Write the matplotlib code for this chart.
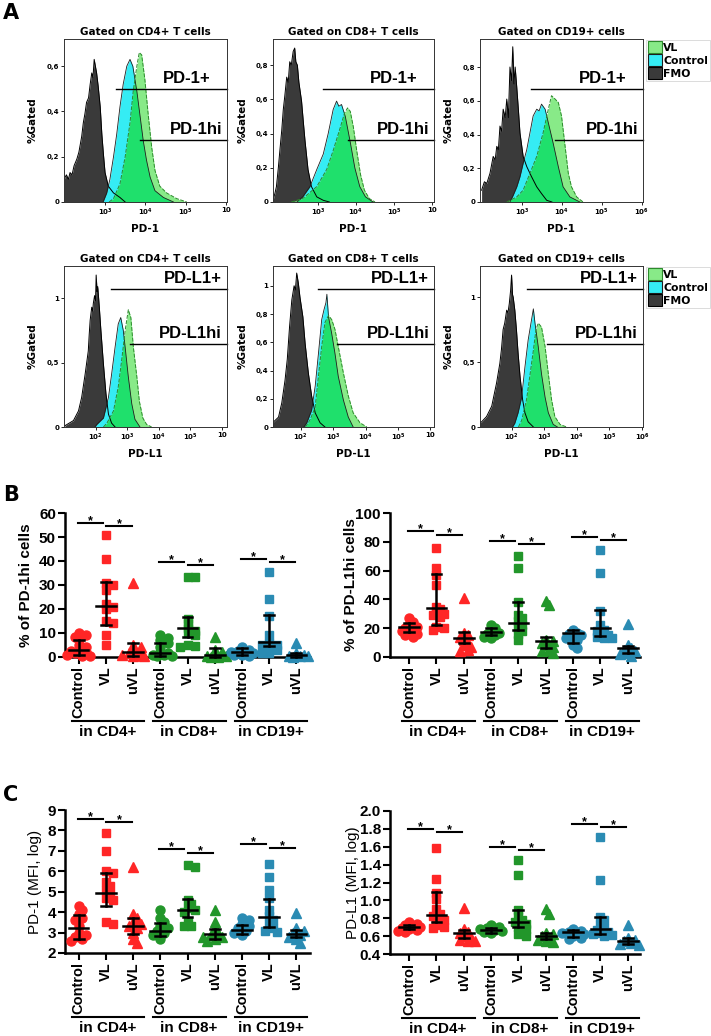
import numpy as np
import matplotlib
matplotlib.use("Agg")
import matplotlib.pyplot as plt
import matplotlib.transforms as mtransforms
from matplotlib.patches import Patch

plt.rcParams['font.family'] = ['Liberation Sans', 'DejaVu Sans']

# ---------------- panel A: histogram outlines (log10 intensity, fraction gated)
pd1_cd4_fmo = [(1.98, 0.10), (2.04, 0.12), (2.09, 0.10), (2.13, 0.13), (2.18, 0.12), (2.23, 0.16), (2.30, 0.19),
               (2.35, 0.22), (2.42, 0.29), (2.46, 0.35), (2.50, 0.39), (2.54, 0.44), (2.59, 0.46), (2.63, 0.52),
               (2.67, 0.57), (2.70, 0.55), (2.73, 0.63), (2.76, 0.60), (2.79, 0.57), (2.83, 0.51), (2.88, 0.42),
               (2.92, 0.30), (2.96, 0.21), (3.00, 0.13), (3.08, 0.07), (3.21, 0.04), (3.37, 0.02), (3.50, 0.0)]
pd1_cd4_ctrl = [(2.95, 0.0), (3.04, 0.04), (3.12, 0.10), (3.21, 0.20), (3.29, 0.30), (3.37, 0.42), (3.45, 0.52),
                (3.54, 0.60), (3.62, 0.63), (3.69, 0.60), (3.79, 0.49), (3.87, 0.38), (3.95, 0.27), (4.03, 0.185),
                (4.12, 0.11), (4.24, 0.05), (4.45, 0.02), (4.70, 0.0)]
pd1_cd4_vl = [(3.10, 0.0), (3.21, 0.015), (3.37, 0.08), (3.50, 0.20), (3.62, 0.35), (3.70, 0.49), (3.79, 0.60),
              (3.85, 0.66), (3.91, 0.65), (3.99, 0.54), (4.07, 0.39), (4.16, 0.24), (4.24, 0.14), (4.36, 0.07),
              (4.53, 0.04), (4.78, 0.015), (5.03, 0.0)]

pd1_cd8_fmo = [(1.82, 0.01), (1.87, 0.05), (1.91, 0.09), (1.96, 0.20), (2.00, 0.30), (2.05, 0.42), (2.09, 0.54),
               (2.13, 0.62), (2.18, 0.73), (2.22, 0.70), (2.26, 0.82), (2.30, 0.80), (2.35, 0.88), (2.39, 0.90),
               (2.42, 0.82), (2.46, 0.80), (2.50, 0.70), (2.57, 0.59), (2.62, 0.46), (2.66, 0.36), (2.74, 0.19),
               (2.83, 0.09), (2.97, 0.03), (3.14, 0.01), (3.30, 0.0)]
pd1_cd8_ctrl = [(2.45, 0.0), (2.60, 0.03), (2.79, 0.09), (2.97, 0.19), (3.14, 0.28), (3.27, 0.40), (3.40, 0.54),
                (3.49, 0.59), (3.55, 0.56), (3.62, 0.57), (3.72, 0.50), (3.85, 0.35), (3.97, 0.20), (4.10, 0.09),
                (4.25, 0.03), (4.45, 0.0)]
pd1_cd8_vl = [(2.30, 0.0), (2.60, 0.02), (2.97, 0.09), (3.23, 0.19), (3.40, 0.30), (3.58, 0.43), (3.70, 0.52),
              (3.78, 0.55), (3.85, 0.53), (3.93, 0.44), (4.02, 0.30), (4.12, 0.16), (4.22, 0.07), (4.35, 0.02),
              (4.50, 0.0)]

pd1_cd19_fmo = [(1.99, 0.07), (2.06, 0.12), (2.12, 0.11), (2.20, 0.17), (2.28, 0.27), (2.33, 0.25), (2.37, 0.33),
                (2.41, 0.31), (2.45, 0.45), (2.49, 0.42), (2.53, 0.55), (2.58, 0.50), (2.62, 0.61), (2.66, 0.50),
                (2.70, 0.80), (2.74, 0.72), (2.77, 0.92), (2.80, 0.70), (2.83, 0.80), (2.87, 0.68), (2.91, 0.55),
                (2.95, 0.41), (3.03, 0.27), (3.12, 0.21), (3.24, 0.15), (3.37, 0.09), (3.49, 0.05), (3.62, 0.01),
                (3.75, 0.0)]
pd1_cd19_ctrl = [(2.70, 0.0), (2.78, 0.04), (2.87, 0.09), (2.95, 0.15), (3.03, 0.23), (3.12, 0.31), (3.20, 0.41),
                 (3.28, 0.51), (3.37, 0.55), (3.43, 0.54), (3.49, 0.58), (3.58, 0.55), (3.66, 0.47), (3.78, 0.35),
                 (3.91, 0.21), (4.03, 0.09), (4.20, 0.03), (4.45, 0.0)]
pd1_cd19_vl = [(2.62, 0.0), (2.87, 0.03), (3.03, 0.07), (3.20, 0.17), (3.37, 0.27), (3.53, 0.41), (3.66, 0.55),
               (3.74, 0.63), (3.83, 0.61), (3.91, 0.59), (3.99, 0.51), (4.08, 0.33), (4.16, 0.17), (4.24, 0.09),
               (4.37, 0.03), (4.53, 0.0)]

pdl1_cd4_fmo = [(1.03, 0.01), (1.30, 0.05), (1.46, 0.125), (1.56, 0.23), (1.67, 0.41), (1.72, 0.50), (1.77, 0.59),
                (1.80, 0.72), (1.83, 0.83), (1.88, 0.93), (1.91, 0.90), (1.93, 0.96), (1.97, 1.02), (2.00, 0.98),
                (2.02, 1.18), (2.05, 1.05), (2.07, 1.09), (2.12, 0.93), (2.17, 0.75), (2.25, 0.49), (2.33, 0.26),
                (2.41, 0.10), (2.51, 0.03), (2.62, 0.0)]
pdl1_cd4_ctrl = [(1.98, 0.0), (2.04, 0.02), (2.25, 0.07), (2.41, 0.23), (2.51, 0.41), (2.62, 0.62), (2.72, 0.80),
                 (2.80, 0.85), (2.88, 0.75), (2.94, 0.62), (3.04, 0.39), (3.15, 0.18), (3.25, 0.06), (3.41, 0.0)]
pdl1_cd4_vl = [(2.25, 0.0), (2.36, 0.03), (2.57, 0.125), (2.72, 0.31), (2.83, 0.52), (2.94, 0.75), (3.04, 0.91),
               (3.12, 0.85), (3.20, 0.62), (3.31, 0.39), (3.39, 0.20), (3.50, 0.07), (3.62, 0.02), (3.78, 0.0)]

pdl1_cd8_fmo = [(1.14, 0.03), (1.32, 0.07), (1.42, 0.17), (1.52, 0.33), (1.59, 0.48), (1.66, 0.71), (1.73, 0.90),
                (1.80, 1.00), (1.84, 0.97), (1.88, 1.09), (1.93, 1.02), (1.98, 0.92), (2.07, 0.78), (2.14, 0.59),
                (2.24, 0.38), (2.34, 0.22), (2.45, 0.10), (2.60, 0.03), (2.75, 0.0)]
pdl1_cd8_ctrl = [(2.10, 0.0), (2.19, 0.03), (2.34, 0.12), (2.45, 0.29), (2.55, 0.52), (2.65, 0.76), (2.72, 0.83),
                 (2.78, 0.88), (2.81, 0.94), (2.86, 0.78), (2.96, 0.66), (3.06, 0.52), (3.16, 0.36), (3.32, 0.19),
                 (3.47, 0.07), (3.62, 0.0)]
pdl1_cd8_vl = [(2.15, 0.0), (2.29, 0.05), (2.45, 0.14), (2.55, 0.36), (2.65, 0.57), (2.75, 0.74), (2.86, 0.79),
               (2.96, 0.76), (3.06, 0.69), (3.16, 0.57), (3.32, 0.38), (3.47, 0.22), (3.62, 0.10), (3.83, 0.03),
               (4.04, 0.0)]

pdl1_cd19_fmo = [(1.02, 0.03), (1.07, 0.04), (1.22, 0.08), (1.38, 0.16), (1.53, 0.34), (1.63, 0.49), (1.68, 0.60),
                 (1.73, 0.75), (1.78, 0.80), (1.84, 0.90), (1.88, 0.88), (1.92, 0.95), (1.96, 1.05), (1.99, 1.17),
                 (2.02, 1.02), (2.04, 1.00), (2.09, 0.90), (2.14, 0.75), (2.19, 0.57), (2.25, 0.39), (2.33, 0.21),
                 (2.40, 0.11), (2.50, 0.04), (2.66, 0.0)]
pdl1_cd19_ctrl = [(2.02, 0.0), (2.09, 0.03), (2.19, 0.11), (2.30, 0.23), (2.40, 0.46), (2.50, 0.67), (2.60, 0.82),
                  (2.66, 0.91), (2.71, 0.80), (2.81, 0.62), (2.91, 0.41), (3.02, 0.23), (3.12, 0.11), (3.27, 0.02),
                  (3.40, 0.0)]
pdl1_cd19_vl = [(2.20, 0.0), (2.30, 0.05), (2.45, 0.21), (2.55, 0.39), (2.66, 0.59), (2.74, 0.75), (2.81, 0.80),
                (2.91, 0.77), (3.02, 0.62), (3.12, 0.41), (3.22, 0.21), (3.32, 0.08), (3.48, 0.02), (3.68, 0.0)]

# gate start (log10) for the "+" and "hi" gates
pd1_pos_start = [3.27, 3.13, 3.22]
pd1_hi_start = [3.87, 3.79, 3.82]
pdl1_pos_start = [2.49, 2.54, 2.46]
pdl1_hi_start = [3.10, 3.12, 3.08]

# ---------------- panels B and C: per-subject values
conds = ['Control', 'VL', 'uVL']
groups = ['in CD4+', 'in CD8+', 'in CD19+']

pd1hi_vals = [
    [10, 9, 8.5, 7, 5, 4, 3, 2.5, 2, 1.5, 1, 0.5, 0.3],
    [51, 41, 31, 30, 28, 22, 21, 20, 15, 14, 9, 5],
    [31, 5, 4, 3, 2, 1.5, 1, 1, 0.5, 0.3],
    [9, 8, 7, 6, 4, 2, 1.5, 1, 0.8, 0.5, 0.3],
    [33.5, 33.5, 16, 14, 12, 11, 10, 9, 5, 4.5, 4],
    [8.5, 3, 2, 1, 0.5, 0.3, 0.2, 0.1],
    [4, 3, 2.5, 2, 2, 1.5, 1, 1, 0.5],
    [35.5, 24, 17, 9, 6, 5, 5, 4, 3, 1.5, 1.5],
    [6, 1.5, 1, 0.5, 0.5, 0.3, 0.2],
]
pd1hi_med = [2.9, 21.3, 2.2, 1.8, 11.9, 0.8, 2.2, 6.4, 0.8]
pd1hi_q1 = [0.8, 13.3, 0.5, 0.5, 8.5, 0.2, 0.8, 4.6, 0.1]
pd1hi_q3 = [7.1, 31.4, 5.7, 5.7, 16.8, 3.6, 3.6, 17.5, 1.8]
pd1hi_sig = [56, 54.5, 39.6, 38.3, 40.8, 39.6]

pdl1hi_vals = [
    [27, 24, 22, 21, 20, 19, 18, 17, 16, 15, 14],
    [76, 62, 57, 50, 35, 33, 31, 30, 29, 28, 21, 20, 19],
    [41, 17, 15, 14, 12, 10, 8, 7, 5, 4],
    [22, 20, 18, 17, 16, 15, 14, 13],
    [70, 62, 38, 29, 27, 25, 22, 20, 18, 16, 12],
    [39, 36, 12, 11, 10, 8, 7, 5, 4, 3],
    [19, 17, 16, 15, 14, 13, 12, 8, 6],
    [74, 58, 32, 22, 19, 18, 16, 15, 14, 13, 13],
    [23, 8, 6, 5, 4, 3, 2, 1],
]
pdl1hi_med = [20.6, 34.3, 13, 17.1, 23.8, 11.3, 16.4, 19.9, 6]
pdl1hi_q1 = [17.6, 22.2, 9.5, 15.3, 18.8, 6, 9.5, 14.6, 3]
pdl1hi_q3 = [23.4, 57.6, 17.6, 19.9, 38.4, 13.7, 18.5, 32.6, 7.5]
pdl1hi_sig = [87.5, 84.7, 80.6, 78.5, 83.3, 81.2]

pd1_mfi_vals = [
    [4.3, 4.1, 3.9, 3.7, 3.6, 3.3, 3.0, 2.9, 2.8, 2.7, 2.6],
    [7.85, 7.0, 6.0, 5.9, 5.5, 5.3, 5.1, 4.9, 4.7, 4.6, 3.5, 3.4],
    [6.2, 3.9, 3.7, 3.5, 3.4, 3.3, 3.2, 3.0, 2.7, 2.5],
    [4.1, 3.7, 3.5, 3.3, 3.2, 3.1, 3.0, 2.9, 2.7],
    [6.3, 6.2, 4.6, 4.4, 4.2, 4.1, 4.0, 3.5, 3.3, 3.3],
    [4.1, 3.5, 3.2, 3.0, 2.9, 2.8, 2.8, 2.7, 2.6],
    [3.7, 3.6, 3.4, 3.3, 3.2, 3.1, 3.0, 2.9],
    [6.35, 5.7, 5.1, 4.7, 4.1, 3.8, 3.6, 3.4, 3.2, 3.1, 3.05],
    [3.95, 3.2, 3.1, 3.0, 2.9, 2.8, 2.7, 2.5],
]
pd1_mfi_med = [3.23, 4.92, 3.31, 3.09, 4.1, 2.92, 3.12, 3.77, 2.95]
pd1_mfi_q1 = [2.69, 4.29, 2.92, 2.82, 3.74, 2.70, 2.92, 3.28, 2.79]
pd1_mfi_q3 = [3.85, 5.93, 3.69, 3.45, 4.64, 3.19, 3.36, 4.66, 3.12]
pd1_mfi_sig = [8.56, 8.41, 7.09, 6.9, 7.33, 7.14]

pdl1_mfi_vals = [
    [0.76, 0.74, 0.72, 0.71, 0.70, 0.69, 0.68, 0.67, 0.66, 0.65],
    [1.59, 1.24, 1.08, 1.02, 0.90, 0.85, 0.83, 0.80, 0.78, 0.75, 0.72, 0.70, 0.69],
    [0.92, 0.68, 0.65, 0.63, 0.60, 0.58, 0.56, 0.55, 0.54],
    [0.72, 0.70, 0.69, 0.68, 0.67, 0.66, 0.65, 0.64],
    [1.45, 1.28, 0.89, 0.82, 0.78, 0.76, 0.74, 0.70, 0.68, 0.65, 0.62, 0.60],
    [0.90, 0.85, 0.64, 0.62, 0.60, 0.58, 0.56, 0.55, 0.53],
    [0.68, 0.66, 0.65, 0.64, 0.63, 0.62, 0.60, 0.58, 0.57],
    [1.71, 1.23, 0.81, 0.78, 0.72, 0.69, 0.67, 0.65, 0.63, 0.62, 0.61, 0.60],
    [0.72, 0.58, 0.56, 0.54, 0.52, 0.51, 0.50],
]
pdl1_mfi_med = [0.706, 0.837, 0.63, 0.67, 0.76, 0.605, 0.65, 0.68, 0.55]
pdl1_mfi_q1 = [0.68, 0.76, 0.58, 0.64, 0.70, 0.57, 0.59, 0.62, 0.51]
pdl1_mfi_q3 = [0.72, 1.09, 0.67, 0.69, 0.89, 0.64, 0.67, 0.81, 0.58]
pdl1_mfi_sig = [1.80, 1.76, 1.60, 1.56, 1.86, 1.82]

# ---------------- styling
W, H = 711, 1036
C_FMO, C_CTRL, C_VL, C_BOTH = '#3a3a3a', '#35ecf4', '#88ea88', '#1fe06c'
group_colors = ['#ff2626', '#22962a', '#2a8bb3']
markers = ['o', 's', '^']
msizes = [6.5, 6, 7]
HF = 'DejaVu Sans'

fig = plt.figure(figsize=(W / 100, H / 100), dpi=100)


def px_axes(x0, y0, x1, y1):
    return fig.add_axes([x0 / W, 1 - y1 / H, (x1 - x0) / W, (y1 - y0) / H])


def hist_panel(box, title, xlabel, fmo, ctrl, vl, xlim, ytop, yticks, ylabels,
               xticks, xlabels, gates, legend=False):
    ax = px_axes(*box)
    fx, fy = np.array(fmo).T
    cx, cy = np.array(ctrl).T
    vx, vy = np.array(vl).T
    ax.fill_between(fx, fy, 0, color=C_FMO, lw=0)
    ax.plot(fx, fy, color='black', lw=0.7)
    cpoly = ax.fill_between(cx, cy, 0, color=C_CTRL, lw=0)
    ax.fill_between(vx, vy, 0, color=C_VL, lw=0)
    # where VL and Control overlap the fill turns bright green
    both = ax.fill_between(vx, vy, 0, color=C_BOTH, lw=0)
    both.set_clip_path(cpoly.get_paths()[0], ax.transData)
    ax.plot(cx, cy, color='#1e1e1e', lw=0.6)
    ax.plot(vx, vy, color='#2c8a2c', lw=0.7, ls=(0, (4, 1.5)))

    for label, xs, frac, tx in gates:
        ax.plot([xs, xlim[1]], [frac * ytop] * 2, color='black', lw=1.0, clip_on=False)
        ax.text(tx, frac + 0.02, label, transform=ax.transAxes, ha='right', va='bottom',
                fontsize=12, fontweight='bold', family='Liberation Sans')

    ax.set_xlim(*xlim)
    ax.set_ylim(0, ytop)
    ax.set_yticks(yticks)
    ax.set_yticklabels(ylabels, fontsize=5, fontweight='bold', family=HF)
    ax.set_xticks(xticks)
    ax.set_xticklabels(xlabels, fontsize=5, fontweight='bold', family=HF)
    ax.tick_params(length=2, width=0.6, pad=1.5)
    for s in ax.spines.values():
        s.set_linewidth(0.7)
        s.set_color('#333333')
    ax.set_title(title, fontsize=7.5, fontweight='bold', family=HF, pad=3)
    ax.set_ylabel('%Gated', fontsize=7.5, fontweight='bold', family=HF)
    ax.yaxis.set_label_coords(-0.16, 0.5)
    ax.set_xlabel(xlabel, fontsize=7.5, fontweight='bold', family=HF)
    ax.xaxis.set_label_coords(0.5, -0.135)
    if legend:
        handles = [Patch(fc=C_VL, ec='#2c8a2c', lw=0.8), Patch(fc=C_CTRL, ec='#1e1e1e', lw=0.8),
                   Patch(fc=C_FMO, ec='black', lw=0.8)]
        leg = ax.legend(handles, ['VL', 'Control', 'FMO'], loc='upper left', bbox_to_anchor=(1.018, 0.995),
                        borderaxespad=0, handlelength=1.3, handleheight=1.3, handletextpad=0.15,
                        labelspacing=0.1, borderpad=0.15, fancybox=False, edgecolor='#cccccc',
                        prop={'family': HF, 'weight': 'bold', 'size': 7.8})
        leg.get_frame().set_linewidth(0.6)
    return ax


def swarm(vals, ppu_x, ppu_y, d=7.5):
    # simple beeswarm: nudge overlapping points sideways
    placed = []
    offs = []
    step = 0.5 * d
    for v in vals:
        y = v * ppu_y
        best, best_gap = 0.0, -1
        for k in (0, 1, -1, 2, -2, 3, -3):
            x = k * step
            gap = min([np.hypot(x - a, y - b) for a, b in placed] + [99])
            if gap >= 0.6 * d:
                best = x
                break
            if gap > best_gap:
                best, best_gap = x, gap
        placed.append((best, y))
        offs.append(best / ppu_x)
    return np.array(offs)


def dot_panel(box, vals, med, q1, q3, sig, xlim, ylim, yticks, yticklabels, ylabel, ylab_x, ylab_weight):
    ax = px_axes(*box)
    x0, y0, x1, y1 = box
    ppu_x = (x1 - x0) / (xlim[1] - xlim[0])
    ppu_y = (y1 - y0) / (ylim[1] - ylim[0])
    for i, v in enumerate(vals):
        g, c = divmod(i, 3)
        v = np.array(v, dtype=float)
        offs = swarm(v, ppu_x, ppu_y)
        ax.plot(i + offs, v, ls='none', marker=markers[c], ms=msizes[c], color=group_colors[g],
                mec=group_colors[g], clip_on=False, zorder=3)
        ax.plot([i - 0.36, i + 0.36], [med[i]] * 2, color='black', lw=1.8, zorder=4, clip_on=False)
        ax.plot([i, i], [q1[i], q3[i]], color='black', lw=1.8, zorder=4, clip_on=False)
        for q in (q1[i], q3[i]):
            ax.plot([i - 0.18, i + 0.18], [q, q], color='black', lw=1.8, zorder=4, clip_on=False)

    trans = mtransforms.blended_transform_factory(ax.transData, ax.transAxes)
    hpx = y1 - y0
    for g, name in enumerate(groups):
        for k, (a, b) in enumerate([(-0.03, 0.88), (1.02, 1.95)]):
            lev = sig[2 * g + k]
            ax.plot([g * 3 + a, g * 3 + b], [lev, lev], color='black', lw=1.5, clip_on=False)
            ax.annotate('*', xy=(g * 3 + (a + b) / 2, lev), xytext=(0, -3), textcoords='offset points',
                        ha='center', va='bottom', fontsize=9, fontweight='bold', annotation_clip=False)
        ax.plot([g * 3 - 0.25, g * 3 + 2.4], [-64 / hpx] * 2, transform=trans, color='black',
                lw=1.5, clip_on=False)
        ax.text(g * 3 + 1.05, -75 / hpx, name, transform=trans, ha='center', va='center',
                fontsize=11, fontweight='bold')

    ax.set_xlim(*xlim)
    ax.set_ylim(*ylim)
    ax.set_yticks(yticks)
    ax.set_yticklabels(yticklabels, fontsize=11, fontweight='bold')
    ax.set_xticks(range(9))
    ax.set_xticklabels(conds * 3, rotation=90, fontsize=10.5, fontweight='bold')
    ax.tick_params(length=5, width=1.5, pad=1.5)
    for s in ('top', 'right'):
        ax.spines[s].set_visible(False)
    for s in ('left', 'bottom'):
        ax.spines[s].set_linewidth(1.8)
    ax.set_ylabel(ylabel, fontsize=11, fontweight=ylab_weight)
    ax.yaxis.set_label_coords(ylab_x, 0.5)
    return ax


# ---------------- panel A
top_boxes = [(64, 39, 227, 202), (273, 39, 434, 202), (480, 39, 643, 202)]
bot_boxes = [(64, 266, 227, 427), (273, 266, 434, 427), (480, 266, 643, 427)]
titles = ['Gated on CD4+ T cells', 'Gated on CD8+ T cells', 'Gated on CD19+ cells']
top_xlims = [(1.98, 6.03), (1.82, 6.05), (1.95, 6.03)]
bot_xlims = [(1.0, 6.17), (1.15, 6.11), (1.02, 6.03)]
top_ytops = [0.72, 0.953, 0.966]
bot_ytops = [1.25, 1.14, 1.24]
top_curves = [(pd1_cd4_fmo, pd1_cd4_ctrl, pd1_cd4_vl), (pd1_cd8_fmo, pd1_cd8_ctrl, pd1_cd8_vl),
              (pd1_cd19_fmo, pd1_cd19_ctrl, pd1_cd19_vl)]
bot_curves = [(pdl1_cd4_fmo, pdl1_cd4_ctrl, pdl1_cd4_vl), (pdl1_cd8_fmo, pdl1_cd8_ctrl, pdl1_cd8_vl),
              (pdl1_cd19_fmo, pdl1_cd19_ctrl, pdl1_cd19_vl)]
top_yt = [([0, 0.2, 0.4, 0.6], ['0', '0,2', '0,4', '0,6']),
          ([0, 0.2, 0.4, 0.6, 0.8], ['0', '0,2', '0,4', '0,6', '0,8']),
          ([0, 0.2, 0.4, 0.6, 0.8], ['0', '0,2', '0,4', '0,6', '0,8'])]
bot_yt = [([0, 0.5, 1], ['0', '0,5', '1']),
          ([0, 0.2, 0.4, 0.6, 0.8, 1], ['0', '0,2', '0,4', '0,6', '0,8', '1']),
          ([0, 0.5, 1], ['0', '0,5', '1'])]
top_xl = [r'$\mathbf{10^3}$', r'$\mathbf{10^4}$', r'$\mathbf{10^5}$']
bot_xl = [r'$\mathbf{10^2}$', r'$\mathbf{10^3}$', r'$\mathbf{10^4}$', r'$\mathbf{10^5}$']

for j in range(3):
    last = '10' if j < 2 else r'$\mathbf{10^6}$'
    gates = [('PD-1+', pd1_pos_start[j], 0.693, 0.90), ('PD-1hi', pd1_hi_start[j], 0.380, 0.97)]
    hist_panel(top_boxes[j], titles[j], 'PD-1', *top_curves[j], top_xlims[j], top_ytops[j],
               top_yt[j][0], top_yt[j][1], [3, 4, 5, 6], top_xl + [last], gates, legend=(j == 2))
    gates = [('PD-L1+', pdl1_pos_start[j], 0.857, 0.97), ('PD-L1hi', pdl1_hi_start[j], 0.516, 0.97)]
    hist_panel(bot_boxes[j], titles[j], 'PD-L1', *bot_curves[j], bot_xlims[j], bot_ytops[j],
               bot_yt[j][0], bot_yt[j][1], [2, 3, 4, 5, 6], bot_xl + [last], gates, legend=(j == 2))

# ---------------- panels B and C
dot_panel((65, 513, 310, 657), pd1hi_vals, pd1hi_med, pd1hi_q1, pd1hi_q3, pd1hi_sig,
          (-0.5, 8.5), (0, 60), range(0, 61, 10), [str(v) for v in range(0, 61, 10)],
          '% of PD-1hi cells', -0.13, 'bold')
dot_panel((390, 513, 640, 657), pdl1hi_vals, pdl1hi_med, pdl1hi_q1, pdl1hi_q3, pdl1hi_sig,
          (-0.7, 8.45), (0, 100), range(0, 101, 20), [str(v) for v in range(0, 101, 20)],
          '% of PD-L1hi cells', -0.128, 'bold')
dot_panel((65, 810, 310, 953), pd1_mfi_vals, pd1_mfi_med, pd1_mfi_q1, pd1_mfi_q3, pd1_mfi_sig,
          (-0.5, 8.5), (2, 9), range(2, 10), [str(v) for v in range(2, 10)],
          'PD-1 (MFI, log)', -0.094, 'normal')
yt = [0.4, 0.6, 0.8, 1.0, 1.2, 1.4, 1.6, 1.8, 2.0]
dot_panel((390, 811, 640, 954), pdl1_mfi_vals, pdl1_mfi_med, pdl1_mfi_q1, pdl1_mfi_q3, pdl1_mfi_sig,
          (-0.7, 8.45), (0.4, 2.0), yt, ['%.1f' % v for v in yt],
          'PD-L1 (MFI, log)', -0.12, 'normal')

# panel letters
for letter, ytop in (('A', 3), ('B', 485), ('C', 785)):
    fig.text(3 / W, 1 - ytop / H, letter, ha='left', va='top', fontsize=15, fontweight='bold', family=HF)

fig.savefig('out.png', dpi=100)
